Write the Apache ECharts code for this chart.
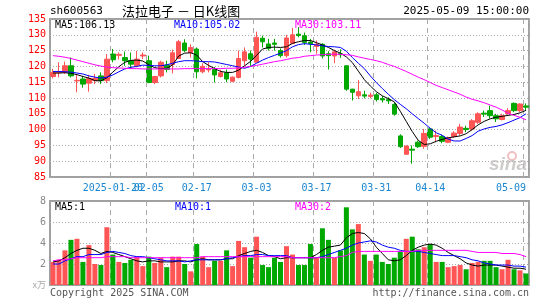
<!DOCTYPE html>
<html>
<head>
<meta charset="utf-8">
<script src="https://cdn.jsdelivr.net/npm/echarts@6/dist/echarts.min.js"></script>
<style>
  html, body { margin: 0; padding: 0; background: #fff; }
  #main { width: 545px; height: 300px; }
</style>
</head>
<body>
<div id="main"></div>
<script>
// trading days shown on the chart
const dates = [
  '2025-01-06','2025-01-07','2025-01-08','2025-01-09','2025-01-10','2025-01-13','2025-01-14','2025-01-15','2025-01-16','2025-01-17',
  '2025-01-20','2025-01-21','2025-01-22','2025-01-23','2025-01-24','2025-01-27','2025-02-05','2025-02-06','2025-02-07','2025-02-10',
  '2025-02-11','2025-02-12','2025-02-13','2025-02-14','2025-02-17','2025-02-18','2025-02-19','2025-02-20','2025-02-21','2025-02-24',
  '2025-02-25','2025-02-26','2025-02-27','2025-02-28','2025-03-03','2025-03-04','2025-03-05','2025-03-06','2025-03-07','2025-03-10',
  '2025-03-11','2025-03-12','2025-03-13','2025-03-14','2025-03-17','2025-03-18','2025-03-19','2025-03-20','2025-03-21','2025-03-24',
  '2025-03-25','2025-03-26','2025-03-27','2025-03-28','2025-03-31','2025-04-01','2025-04-02','2025-04-03','2025-04-07','2025-04-08',
  '2025-04-09','2025-04-10','2025-04-11','2025-04-14','2025-04-15','2025-04-16','2025-04-17','2025-04-18','2025-04-21','2025-04-22',
  '2025-04-23','2025-04-24','2025-04-25','2025-04-28','2025-04-29','2025-04-30','2025-05-06','2025-05-07','2025-05-08','2025-05-09'
];
// dates that get a label and a dashed line (the first one is written in full)
const labelDates = ['2025-01-20','2025-02-05','2025-02-17','2025-03-03','2025-03-17','2025-03-31','2025-04-14','2025-05-09'];

const opens = [
  116.8,118.0,118.1,120.2,115.4,116.0,114.7,115.5,117.0,115.5,
  123.9,123.5,122.8,121.8,120.2,123.3,121.8,114.9,117.0,120.4,
  120.6,122.5,127.4,124.4,125.5,118.3,118.9,119.0,116.8,118.0,
  115.3,116.5,121.8,124.0,121.3,128.9,127.1,127.4,125.0,123.4,
  127.3,130.2,129.7,127.7,126.3,127.0,124.0,123.3,124.0,120.2,
  112.8,110.7,111.0,110.5,111.0,109.8,109.5,108.0,98.0,92.2,
  93.8,96.0,94.7,100.2,97.8,97.8,96.0,97.8,98.8,100.4,
  100.2,102.3,105.2,106.0,104.4,103.2,105.0,108.3,106.0,107.5
];
const closes = [
  118.1,118.3,120.2,117.0,115.6,114.4,116.2,116.2,115.5,122.3,
  122.1,123.8,121.8,120.7,122.3,123.6,114.9,116.8,121.3,119.0,
  124.3,127.8,125.0,126.0,118.3,120.0,119.2,117.3,118.0,116.0,
  116.6,122.5,124.6,122.3,129.2,127.8,125.7,127.0,123.4,129.0,
  130.0,129.8,127.6,127.2,127.0,123.3,123.4,124.6,123.7,112.8,
  111.8,112.0,110.6,110.9,109.5,109.4,109.1,104.9,94.6,94.8,
  93.5,94.6,98.8,97.6,98.1,96.3,97.4,98.9,100.8,100.0,
  102.8,105.0,104.9,104.4,103.4,104.4,106.0,106.0,108.1,107.1
];
const lows = [
  116.2,116.5,117.6,116.5,111.8,113.3,112.0,114.4,114.4,114.7,
  121.3,122.2,120.2,119.2,119.7,122.3,114.7,114.4,116.5,118.1,
  117.8,122.3,124.5,122.8,116.2,117.8,118.1,114.9,116.5,115.0,
  115.0,116.2,120.2,120.2,121.3,126.0,125.0,125.0,122.8,122.8,
  127.0,129.2,126.8,124.5,124.0,122.5,119.0,121.0,122.7,112.3,
  109.2,109.7,109.9,109.9,108.9,108.6,108.1,104.4,94.2,92.0,
  89.2,94.2,93.9,97.0,96.0,95.7,95.7,97.4,98.1,99.2,
  99.7,101.8,104.0,103.5,102.4,102.9,104.7,105.5,105.5,106.1
];
const highs = [
  119.2,121.3,121.5,122.8,117.3,117.0,117.3,117.6,118.1,123.9,
  125.5,124.4,124.7,124.4,124.9,124.4,123.4,117.0,121.8,121.8,
  125.3,128.4,128.6,127.0,126.0,121.0,121.3,119.8,119.0,119.0,
  116.8,125.0,126.0,125.0,131.0,129.7,128.7,128.7,125.7,130.0,
  132.2,132.4,130.7,128.7,128.2,127.3,124.8,125.3,125.4,120.3,
  112.9,115.7,112.3,111.7,111.6,110.6,110.2,108.5,98.5,95.0,
  95.0,96.5,100.2,100.7,99.7,98.4,97.8,99.5,101.8,101.2,
  103.3,105.5,106.0,107.6,105.0,105.0,106.8,108.6,108.3,108.3
];

const ma5 = [
  117.9,117.9,118.0,117.8,117.4,116.8,116.3,115.5,115.4,116.4,
  118.2,119.9,121.3,121.9,122.0,121.7,120.5,119.6,119.3,119.4,
  120.5,123.3,124.2,124.3,123.6,121.5,120.3,119.3,118.4,118.1,
  118.1,118.8,120.2,121.6,123.5,125.5,126.0,126.1,126.0,126.2,
  127.3,127.8,128.2,128.2,127.5,126.8,126.0,125.0,124.2,123.0,
  121.2,118.5,115.8,113.8,112.0,110.7,109.8,108.8,105.8,102.6,
  99.4,96.6,95.3,95.5,96.3,96.9,97.4,97.7,98.0,98.7,
  100.0,101.5,102.6,103.4,103.9,104.2,104.5,104.8,105.3,106.1
];
const ma10 = [
  118.4,118.4,118.3,118.2,117.9,117.6,117.0,116.6,116.3,116.6,
  117.3,118.3,119.2,119.7,120.0,120.4,120.3,120.2,120.2,120.5,
  121.0,121.5,121.8,121.8,121.7,121.5,121.5,121.4,121.0,120.6,
  120.2,119.8,119.4,120.0,121.0,122.0,122.8,123.5,124.2,125.0,
  126.2,126.9,127.2,127.0,126.8,126.5,126.3,126.2,126.0,124.8,
  122.8,121.0,119.3,117.0,114.9,113.0,111.2,109.5,108.0,106.6,
  105.0,103.5,102.0,100.4,99.0,98.2,97.0,96.4,96.4,97.2,
  98.1,99.5,100.2,100.7,101.0,101.5,102.2,103.0,103.8,105.0
];
const ma30 = [
  123.4,123.2,122.9,122.5,122.0,121.5,121.0,120.5,120.1,119.8,
  119.6,119.5,119.4,119.3,119.3,119.2,119.2,119.2,119.2,119.2,
  119.2,119.2,119.3,119.3,119.3,119.3,119.3,119.3,119.3,119.4,
  119.4,119.5,119.7,120.0,120.3,120.7,121.1,121.5,121.8,122.2,
  122.6,122.8,123.2,123.4,123.6,123.7,123.8,123.9,123.8,123.7,
  123.5,123.0,122.6,122.2,121.8,121.3,120.6,120.0,119.2,118.4,
  117.5,116.6,115.8,114.9,114.0,113.3,112.6,111.9,111.2,110.3,
  109.6,109.1,108.5,107.8,107.1,106.2,105.2,104.5,103.9,103.1
];

// volume in 万手
const volumes = [
  2.2,2.4,3.3,4.3,4.4,2.2,3.8,2.0,1.9,5.5,
  2.9,2.2,2.1,2.4,2.7,1.8,2.7,2.1,2.6,1.7,
  2.7,2.7,2.0,1.3,3.9,2.7,1.7,2.3,2.3,3.3,
  1.8,4.2,3.6,2.6,4.6,1.9,1.7,2.6,2.2,3.7,
  2.9,1.9,1.9,3.9,2.6,5.4,4.3,2.6,3.3,7.4,
  5.3,5.8,2.9,2.3,2.9,2.2,2.0,2.6,3.2,4.4,
  4.6,3.4,3.6,3.9,2.2,2.2,1.7,1.8,1.9,1.5,
  2.1,2.2,2.3,2.3,1.7,1.5,2.4,1.5,1.4,1.1
];
const volMa5 = [
  2.2,2.3,2.6,3.0,3.3,3.5,3.5,3.3,3.0,3.2,
  3.1,2.9,2.7,2.5,2.3,2.2,2.3,2.3,2.2,2.2,
  2.2,2.3,2.3,2.2,2.4,2.5,2.4,2.4,2.4,2.5,
  2.5,2.8,3.0,3.2,3.3,3.1,2.8,2.7,2.5,2.6,
  2.6,2.6,2.6,2.6,2.9,3.3,3.6,3.7,3.8,4.5,
  4.9,5.0,4.9,4.4,3.6,3.0,2.4,2.3,2.4,2.8,
  3.3,3.6,3.8,3.9,3.8,3.5,3.1,2.8,2.5,2.1,
  1.9,1.8,1.9,1.9,1.9,1.8,1.7,1.6,1.6,1.5
];
const volMa10 = [
  2.0,2.0,2.3,2.5,2.7,2.7,2.9,2.9,2.9,3.1,
  3.2,3.1,3.0,2.8,2.7,2.7,2.6,2.5,2.4,2.3,
  2.3,2.3,2.2,2.3,2.4,2.4,2.4,2.4,2.4,2.5,
  2.6,2.7,2.8,2.8,2.9,2.9,2.8,2.8,2.8,2.8,
  2.6,2.6,2.6,2.6,2.6,2.7,2.9,3.1,3.3,3.5,
  3.8,4.0,4.1,4.2,4.1,3.8,3.6,3.5,3.3,3.2,
  3.2,3.2,3.1,3.0,2.9,2.8,2.8,2.8,2.7,2.6,
  2.4,2.3,2.1,2.0,1.9,1.9,1.9,1.8,1.8,1.7
];
const volMa30 = [
  2.3,2.4,2.4,2.5,2.6,2.6,2.6,2.6,2.6,2.7,
  2.7,2.7,2.7,2.6,2.6,2.6,2.6,2.6,2.6,2.6,
  2.6,2.6,2.6,2.6,2.6,2.7,2.7,2.7,2.7,2.7,
  2.7,2.7,2.7,2.7,2.7,2.7,2.7,2.7,2.7,2.7,
  2.6,2.6,2.6,2.6,2.6,2.6,2.6,2.6,2.7,2.8,
  3.1,3.2,3.2,3.2,3.2,3.2,3.2,3.2,3.2,3.2,
  3.2,3.3,3.3,3.3,3.3,3.3,3.3,3.3,3.3,3.3,
  3.2,3.1,3.1,3.1,3.1,3.0,3.0,3.0,2.9,2.7
];

var chartDom = document.getElementById('main');
var myChart = echarts.init(chartDom, null, { renderer: 'canvas' });

var upColor = '#ff5555';
var downColor = '#00a800';
var mono = '"DejaVu Sans Mono", "Liberation Mono", monospace';
var cjk = '"Noto Sans CJK SC", "Noto Sans", sans-serif';

var candles = dates.map(function (d, i) {
  return [opens[i], closes[i], lows[i], highs[i]];
});
function isLabelDay(idx) {
  return labelDates.indexOf(dates[idx]) !== -1;
}
// the full-year label overlaps its neighbour, so it sits on its own axis
function isFirstLabel(idx) {
  return dates[idx] === labelDates[0];
}
function isShortLabel(idx) {
  return isLabelDay(idx) && !isFirstLabel(idx);
}

var dashLine = { show: true, interval: isLabelDay, lineStyle: { color: '#aaa', type: [5, 4], width: 1 } };
var dotLine = { show: true, lineStyle: { color: '#aaa', type: [1, 2], width: 1 } };
var dateLabel = {
  margin: 6,
  color: '#1a86d0',
  fontFamily: mono,
  fontSize: 10,
  hideOverlap: false
};

function maLine(name, data, color, axis) {
  return {
    name: name,
    type: 'line',
    xAxisIndex: axis,
    yAxisIndex: axis,
    data: data,
    symbol: 'none',
    smooth: false,
    lineStyle: { color: color, width: 1 },
    z: 5
  };
}

function label(text, x, y, color, font, align) {
  return {
    type: 'text',
    x: x,
    y: y,
    z: 100,
    style: {
      text: text,
      fill: color,
      font: font,
      textAlign: align || 'left',
      textVerticalAlign: 'middle'
    }
  };
}

var option = {
  animation: false,
  backgroundColor: '#fff',
  grid: [
    { left: 50, right: 16, top: 19, height: 158, show: true, borderColor: '#a0a0a0', borderWidth: 2, outerBoundsMode: 'none' },
    { left: 50, right: 16, top: 201, height: 84, show: true, borderColor: '#a0a0a0', borderWidth: 2, outerBoundsMode: 'none' }
  ],
  xAxis: [
    {
      type: 'category',
      gridIndex: 0,
      data: dates,
      boundaryGap: true,
      axisLine: { show: false },
      axisTick: { show: false },
      axisLabel: Object.assign({}, dateLabel, {
        interval: isShortLabel,
        alignMaxLabel: 'right',
        formatter: function (v) { return v.slice(5); }
      }),
      splitLine: dashLine,
      z: 3
    },
    {
      type: 'category',
      gridIndex: 1,
      data: dates,
      boundaryGap: true,
      axisLine: { show: false },
      axisTick: { show: false },
      axisLabel: { show: false },
      splitLine: dashLine
    },
    {
      type: 'category',
      gridIndex: 0,
      position: 'bottom',
      data: dates,
      boundaryGap: true,
      axisLine: { show: false },
      axisTick: { show: false },
      splitLine: { show: false },
      axisLabel: Object.assign({}, dateLabel, { interval: isFirstLabel }),
      z: 2
    }
  ],
  yAxis: [
    {
      type: 'value',
      gridIndex: 0,
      min: 85,
      max: 135,
      interval: 5,
      axisLine: { show: false },
      axisTick: { show: false },
      axisLabel: { color: '#ff0000', fontFamily: mono, fontSize: 10, margin: 4 },
      splitLine: dotLine
    },
    {
      type: 'value',
      gridIndex: 1,
      min: 0,
      max: 8,
      interval: 2,
      axisLine: { show: false },
      axisTick: { show: false },
      axisLabel: {
        color: '#888',
        fontFamily: mono,
        fontSize: 10,
        margin: 4,
        formatter: function (v) {
          return v === 0 ? '{u|x万}' : v;
        },
        rich: { u: { color: '#aaa', fontSize: 9, fontFamily: cjk } }
      },
      splitLine: dotLine
    }
  ],
  series: [
    {
      name: 'K',
      type: 'candlestick',
      xAxisIndex: 0,
      yAxisIndex: 0,
      data: candles,
      barWidth: 5,
      itemStyle: {
        color: upColor,
        color0: downColor,
        borderColor: upColor,
        borderColor0: downColor,
        borderWidth: 1
      }
    },
    maLine('MA5', ma5, '#000000', 0),
    maLine('MA10', ma10, '#0000ff', 0),
    maLine('MA30', ma30, '#ff00ff', 0),
    {
      name: 'VOL',
      type: 'bar',
      xAxisIndex: 1,
      yAxisIndex: 1,
      data: volumes,
      barWidth: 5,
      itemStyle: {
        color: function (p) {
          return closes[p.dataIndex] >= opens[p.dataIndex] ? upColor : downColor;
        }
      }
    },
    maLine('VMA5', volMa5, '#000000', 1),
    maLine('VMA10', volMa10, '#0000ff', 1),
    maLine('VMA30', volMa30, '#ff00ff', 1)
  ],
  graphic: [
    label('sh600563', 50, 11, '#000', '11px ' + mono),
    label('法拉电子 － 日K线图', 122, 11, '#000', '13px ' + cjk),
    label('2025-05-09 15:00:00', 529, 11, '#000', '11px ' + mono, 'right'),
    label('MA5:106.13', 55, 25, '#000', '10px ' + mono),
    label('MA10:105.02', 174, 25, '#0000ff', '10px ' + mono),
    label('MA30:103.11', 295, 25, '#ff00ff', '10px ' + mono),
    label('MA5:1', 55, 207, '#000', '10px ' + mono),
    label('MA10:1', 175, 207, '#0000ff', '10px ' + mono),
    label('MA30:2', 295, 207, '#ff00ff', '10px ' + mono),
    label('Copyright 2025 SINA.COM', 50, 293, '#555', '10px ' + mono),
    label('http://finance.sina.com.cn', 529, 293, '#555', '10px ' + mono, 'right'),
    {
      type: 'circle',
      z: 1,
      shape: { cx: 512, cy: 156, r: 4 },
      style: { fill: 'none', stroke: 'rgba(230,150,150,0.6)', lineWidth: 2 }
    },
    label('sina', 527, 165, 'rgba(190,185,185,0.75)', 'italic bold 19px "Liberation Sans", sans-serif', 'right')
  ]
};

option && myChart.setOption(option);
</script>
</body>
</html>
